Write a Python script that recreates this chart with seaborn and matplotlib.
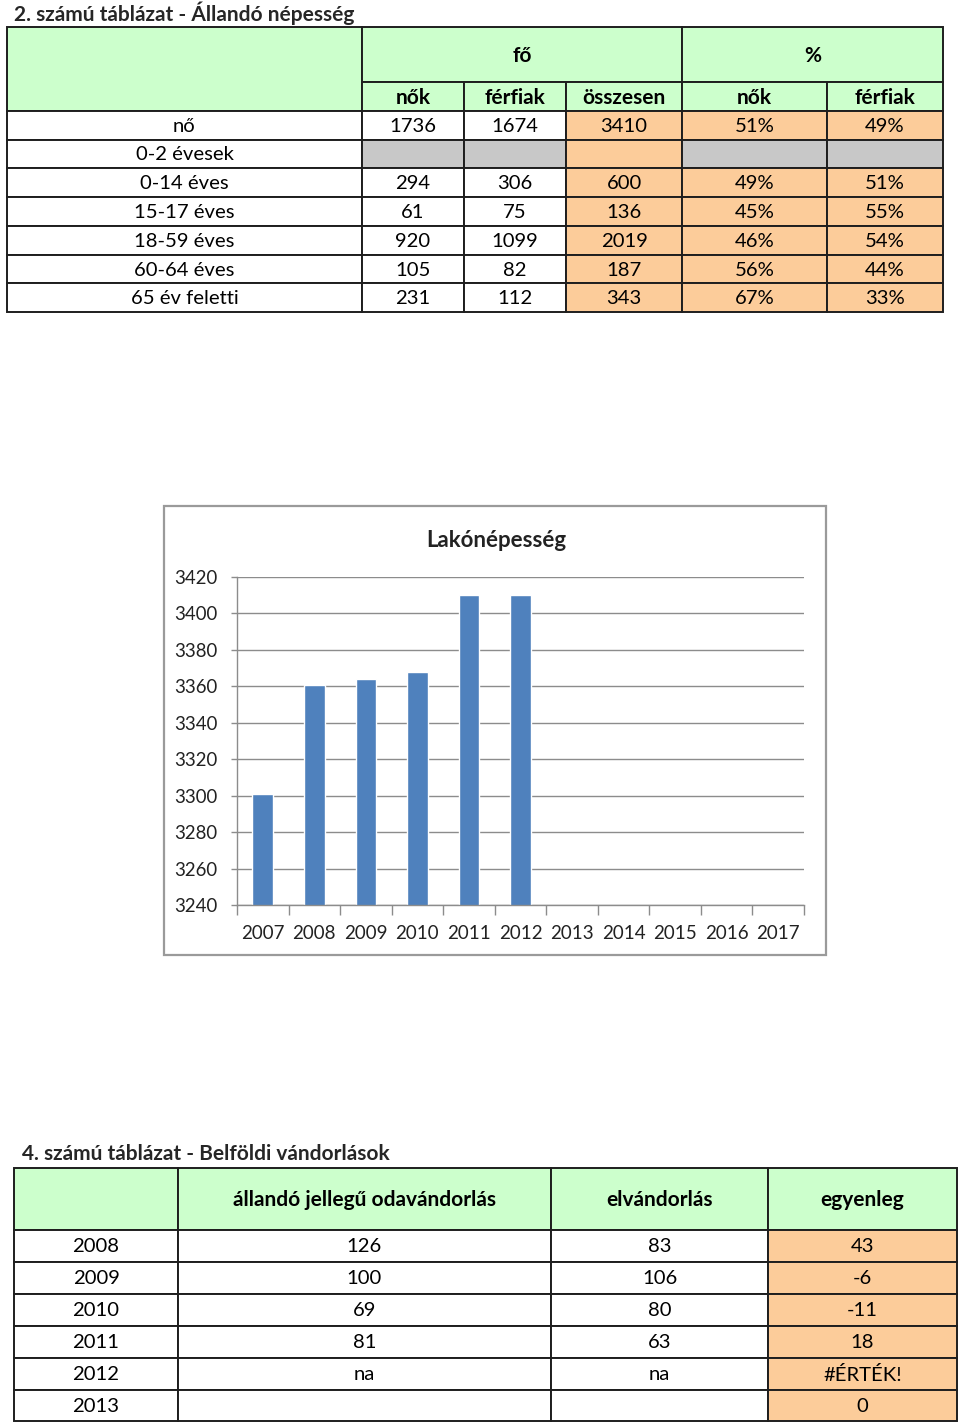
import matplotlib
matplotlib.use('Agg')
import matplotlib.pyplot as plt
import seaborn as sns
import pandas as pd
from matplotlib.patches import Rectangle

# 2. számú táblázat - Állandó népesség
age_groups = ['nő', '0-2 évesek', '0-14 éves', '15-17 éves', '18-59 éves', '60-64 éves', '65 év feletti']
women = ['1736', '', '294', '61', '920', '105', '231']
men = ['1674', '', '306', '75', '1099', '82', '112']
total = ['3410', '', '600', '136', '2019', '187', '343']
women_pct = ['51%', '', '49%', '45%', '46%', '56%', '67%']
men_pct = ['49%', '', '51%', '55%', '54%', '44%', '33%']

# Lakónépesség chart
years = ['2007', '2008', '2009', '2010', '2011', '2012', '2013', '2014', '2015', '2016', '2017']
pop_years = ['2007', '2008', '2009', '2010', '2011', '2012']
population = [3301, 3361, 3364, 3368, 3410, 3410]

# 4. számú táblázat - Belföldi vándorlások
mig_years = ['2008', '2009', '2010', '2011', '2012', '2013']
in_migration = ['126', '100', '69', '81', 'na', '']
out_migration = ['83', '106', '80', '63', 'na', '']
balance = ['43', '-6', '-11', '18', '#ÉRTÉK!', '0']

GREEN = '#CCFFCC'
ORANGE = '#FCCC9A'
GRAY = '#C8C8C8'
LINE = '#1e1e1e'
BAR = '#4F81BD'
GRID = '#8C8C8C'

sns.set_style('white')
plt.rcParams['font.family'] = ['Lato', 'DejaVu Sans']

fig = plt.figure(figsize=(9.6, 14.23), dpi=100)

# canvas for the tables, in pixel units
tab = fig.add_axes([0, 0, 1, 1])
tab.set_xlim(0, 960)
tab.set_ylim(1423, 0)
tab.axis('off')


def cell(x0, x1, y0, y1, text='', fill='white', bold=False):
    tab.add_patch(Rectangle((x0, y0), x1 - x0, y1 - y0, facecolor=fill,
                            edgecolor=LINE, lw=1.4))
    if text:
        tab.text((x0 + x1) / 2, (y0 + y1) / 2 + 1, text, ha='center', va='center',
                 fontsize=15 if bold else 14.6,
                 fontweight='bold' if bold else 'normal', color='black')


# ---- top table ----
tab.text(14, 13, '2. számú táblázat - Állandó népesség', ha='left', va='center',
         fontsize=15, fontweight='bold')
cols = [7, 362, 464, 566, 682, 827, 943]
rows = [111, 140, 168, 197, 226, 255, 283, 312]

cell(cols[0], cols[1], 27, 111, fill=GREEN)
cell(cols[1], cols[4], 27, 82, 'fő', GREEN, bold=True)
cell(cols[4], cols[6], 27, 82, '%', GREEN, bold=True)
for i, lab in enumerate(['nők', 'férfiak', 'összesen', 'nők', 'férfiak']):
    cell(cols[i + 1], cols[i + 2], 82, 111, lab, GREEN, bold=True)

for r, name in enumerate(age_groups):
    y0, y1 = rows[r], rows[r + 1]
    vals = [women[r], men[r], total[r], women_pct[r], men_pct[r]]
    fills = ['white', 'white', ORANGE, ORANGE, ORANGE]
    if name == '0-2 évesek':
        fills = [GRAY, GRAY, ORANGE, GRAY, GRAY]
    cell(cols[0], cols[1], y0, y1, name)
    for c in range(5):
        cell(cols[c + 1], cols[c + 2], y0, y1, vals[c], fills[c])

# ---- bottom table ----
tab.text(22, 1154, '4. számú táblázat - Belföldi vándorlások', ha='left', va='center',
         fontsize=15, fontweight='bold')
bcols = [14, 178, 551, 768, 957]
brows = [1230, 1262, 1294, 1326, 1358, 1390, 1421]
cell(bcols[0], bcols[1], 1168, 1230, fill=GREEN)
for i, lab in enumerate(['állandó jellegű odavándorlás', 'elvándorlás', 'egyenleg']):
    cell(bcols[i + 1], bcols[i + 2], 1168, 1230, lab, GREEN, bold=True)
for r, yr in enumerate(mig_years):
    y0, y1 = brows[r], brows[r + 1]
    cell(bcols[0], bcols[1], y0, y1, yr)
    cell(bcols[1], bcols[2], y0, y1, in_migration[r])
    cell(bcols[2], bcols[3], y0, y1, out_migration[r])
    cell(bcols[3], bcols[4], y0, y1, balance[r], ORANGE)

# ---- chart frame ----
tab.add_patch(Rectangle((164, 506), 662, 449, facecolor='white', edgecolor='#9A9A9A', lw=1.6))

ax = fig.add_axes([237 / 960, (1423 - 905) / 1423, 567 / 960, 328 / 1423])
df = pd.DataFrame({'year': pop_years, 'population': population})
sns.barplot(data=df, x='year', y='population', order=years, color=BAR,
            saturation=1, width=0.4, ax=ax)
ax.set_xlim(-0.5, len(years) - 0.5)
ax.set_ylim(3240, 3420)
ax.set_yticks(range(3240, 3421, 20))
ax.set_axisbelow(True)
ax.yaxis.grid(True, color=GRID, lw=1)
ax.xaxis.grid(False)
ax.set_xlabel('')
ax.set_ylabel('')
for s in ['top', 'right']:
    ax.spines[s].set_visible(False)
for s in ['left', 'bottom']:
    ax.spines[s].set_color(GRID)
    ax.spines[s].set_linewidth(1)
ax.set_xticks([i - 0.5 for i in range(len(years) + 1)], minor=True)
ax.tick_params(axis='x', which='major', length=0, pad=14.5, labelsize=13.5, labelcolor='#222222')
ax.tick_params(axis='x', which='minor', length=7, width=1, color=GRID, bottom=True)
ax.tick_params(axis='y', length=4, width=1, color=GRID, left=True, pad=10,
               labelsize=13.4, labelcolor='#222222')
fig.text(496 / 960, 1 - 540 / 1423, 'Lakónépesség', ha='center', va='center',
         fontsize=16, fontweight='bold', color='#222222')

fig.savefig('out.png', dpi=100)
